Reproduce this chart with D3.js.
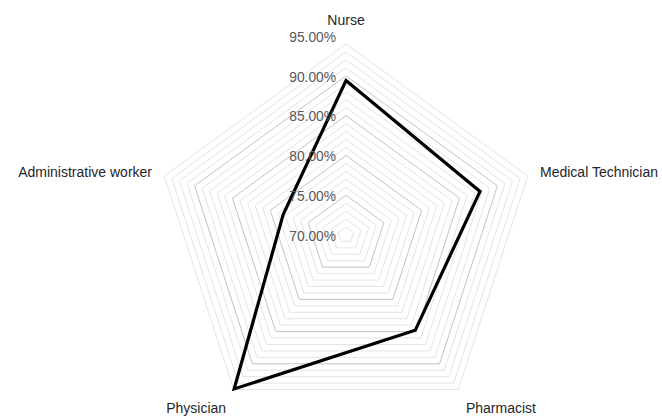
<!DOCTYPE html>
<html>
<head>
<meta charset="utf-8">
<script src="https://cdn.jsdelivr.net/npm/d3@7"></script>
<style>
  body { margin: 0; background: #fff; }
  .tick-label { font-family: "Liberation Sans", Arial, sans-serif; font-size: 13.8px; fill: #595959; }
  .cat-label { font-family: "Liberation Sans", Arial, sans-serif; font-size: 14px; fill: #262626; }
</style>
</head>
<body>
<div class="main"></div>
<script>
const categories = ["Nurse", "Medical Technician", "Pharmacist", "Physician", "Administrative worker"];
const values = [0.894, 0.877, 0.848, 0.939, 0.783];
const tickValues = [0.70, 0.75, 0.80, 0.85, 0.90, 0.95];
const tickLabels = ["70.00%", "75.00%", "80.00%", "85.00%", "90.00%", "95.00%"];

const svgWidth = 662,
    svgHeight = 418,
    cx = 346,
    cy = 235,
    outerR = 199;

let svg = d3.select("body>.main").append("svg")
    .attr("width", svgWidth)
    .attr("height", svgHeight)
  .append("g")
    .attr("transform", "translate(" + cx + "," + cy + ")");

let r = d3.scaleLinear().domain([0.70, 0.95]).range([0, outerR]);
let angle = d3.scalePoint().domain(categories).range([0, 2 * Math.PI * 4 / 5]);

function point(cat, v) {
  let a = angle(cat);
  return [Math.sin(a) * r(v), -Math.cos(a) * r(v)];
}

// grid rings every 1%, darker every 5%
const ringLevels = d3.range(71, 95).map(d => d / 100);
svg.append("g").attr("class", "grid")
  .selectAll("polygon")
  .data(ringLevels)
  .enter().append("polygon")
    .attr("points", lvl => categories.map(c => point(c, lvl).join(",")).join(" "))
    .style("fill", "none")
    .style("stroke", lvl => Math.round(lvl * 100) % 5 === 0 ? "#c3c3c3" : "#e4e4e4")
    .style("stroke-width", 1);

// data line
let line = d3.line().curve(d3.curveLinearClosed);
svg.append("path")
    .datum(categories.map((c, i) => point(c, values[i])))
    .attr("d", line)
    .style("fill", "none")
    .style("stroke", "#000")
    .style("stroke-width", 3.2)
    .style("stroke-linejoin", "miter");

// value axis labels
svg.append("g")
  .selectAll("text")
  .data(tickValues)
  .enter().append("text")
    .attr("class", "tick-label")
    .attr("x", -10)
    .attr("y", d => -r(d) + 1)
    .attr("dy", "0.35em")
    .style("text-anchor", "end")
    .text((d, i) => tickLabels[i]);

// category labels
const labelR = 204;
svg.append("g")
  .selectAll("text")
  .data(categories)
  .enter().append("text")
    .attr("class", "cat-label")
    .attr("x", c => Math.sin(angle(c)) * labelR)
    .attr("y", c => -Math.cos(angle(c)) * labelR)
    .attr("dy", c => {
      let y = -Math.cos(angle(c));
      if (y < -0.9) return "-0.45em";
      if (y > 0.5) return "0.95em";
      return "0.35em";
    })
    .style("text-anchor", c => {
      let x = Math.sin(angle(c));
      if (Math.abs(x) < 0.1) return "middle";
      return x > 0 ? "start" : "end";
    })
    .text(c => c);
</script>
</body>
</html>
